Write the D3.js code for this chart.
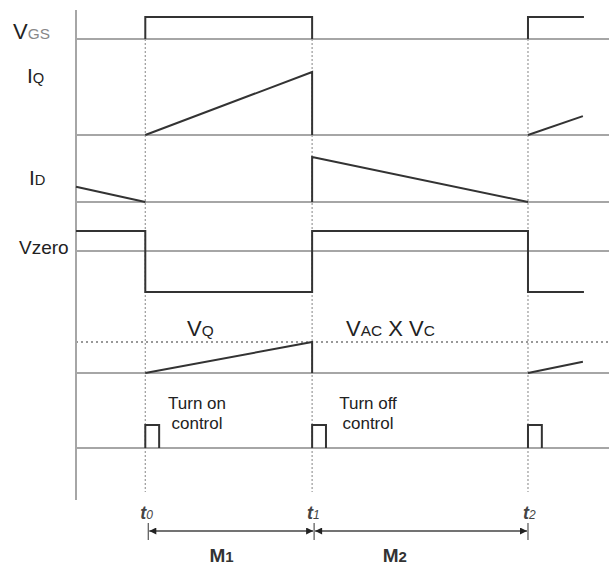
<!DOCTYPE html>
<html>
<head>
<meta charset="utf-8">
<script src="https://cdn.jsdelivr.net/npm/d3@7"></script>
<style>
  body { margin: 0; background: #fff; }
  svg { display: block; font-family: "Liberation Sans", Arial, sans-serif; }
</style>
</head>
<body>
<div id="chart"></div>
<script>
// switching instants (time units, 0..100 across the plot)
const times = [13, 44.3, 84.8];
const timeLabels = ['0', '1', '2'];
const pulseWidth = 2.6;

// waveform vertices [time, level], one list per drawn segment
const vgs = [
  [[13, 0], [13, 1], [44.3, 1], [44.3, 0]],
  [[84.8, 0], [84.8, 1], [95.3, 1]]
];
const iq = [
  [[13, 0], [44.3, 1], [44.3, 0]],
  [[84.8, 0], [95.1, 0.3]]
];
const id = [
  [[0, 0.34], [13, 0]],
  [[44.3, 0], [44.3, 1], [84.8, 0]]
];
const vzero = [
  [[0, 1], [13, 1], [13, -2.05], [44.3, -2.05], [44.3, 1], [84.8, 1], [84.8, -2.05], [95.3, -2.05]]
];
const vq = [
  [[13, 0], [44.3, 1], [44.3, 0]],
  [[84.8, 0], [95.1, 0.36]]
];
const ctrl = times.map(t => [[t, 0], [t, 1], [t + pulseWidth, 1], [t + pulseWidth, 0]]);

const modes = [
  { name: 'M', sub: '1', from: 0, to: 1, at: 27.3 },
  { name: 'M', sub: '2', from: 1, to: 2, at: 59.8 }
];

// layout
const width = 609, height = 567;
const axisX = 76;
const rows = [
  { data: vgs, base: 39, top: 17 },
  { data: iq, base: 135, top: 72 },
  { data: id, base: 202, top: 157 },
  { data: vzero, base: 251, top: 231 },
  { data: vq, base: 373, top: 342 },
  { data: ctrl, base: 448, top: 425 }
];

const x = d3.scaleLinear().domain([0, 100]).range([axisX, width]);

const svg = d3.select('#chart').append('svg')
  .attr('width', width)
  .attr('height', height);

const gray = '#a6a6a6';
const ink = '#333';

// baselines
svg.append('g').selectAll('line')
  .data(rows)
  .join('line')
    .attr('x1', axisX).attr('x2', width)
    .attr('y1', d => d.base).attr('y2', d => d.base)
    .attr('stroke', gray).attr('stroke-width', 2);

// dotted reference level for VQ
svg.append('line')
  .attr('x1', axisX).attr('x2', width)
  .attr('y1', 342).attr('y2', 342)
  .attr('stroke', '#777').attr('stroke-width', 1.5)
  .attr('stroke-dasharray', '2,3');

// dotted time markers
svg.append('g').selectAll('line')
  .data(times)
  .join('line')
    .attr('x1', d => x(d)).attr('x2', d => x(d))
    .attr('y1', 39).attr('y2', 492)
    .attr('stroke', '#999').attr('stroke-width', 1.2)
    .attr('stroke-dasharray', '2,2');

// vertical axis
svg.append('line')
  .attr('x1', axisX).attr('x2', axisX)
  .attr('y1', 10).attr('y2', 500)
  .attr('stroke', gray).attr('stroke-width', 2);

// waveforms
rows.forEach(r => {
  const y = d3.scaleLinear().domain([0, 1]).range([r.base, r.top]);
  const line = d3.line().x(d => x(d[0])).y(d => y(d[1]));
  svg.append('g').selectAll('path')
    .data(r.data)
    .join('path')
      .attr('d', line)
      .attr('fill', 'none')
      .attr('stroke', ink)
      .attr('stroke-width', 2);
});

// signal labels
function label(parts, px, py, size) {
  const t = svg.append('text')
    .attr('x', px).attr('y', py)
    .attr('fill', '#222');
  parts.forEach(p => {
    t.append('tspan')
      .attr('font-size', p.small ? size * 0.7 : size)
      .attr('fill', p.light ? '#888' : '#222')
      .text(p.s);
  });
  return t;
}
label([{ s: 'V' }, { s: 'GS', small: true, light: true }], 13, 39, 22);
label([{ s: 'I' }, { s: 'Q', small: true }], 27, 83, 21);
label([{ s: 'I' }, { s: 'D', small: true }], 29, 185, 21);
label([{ s: 'Vzero' }], 19, 254, 19);
label([{ s: 'V' }, { s: 'Q', small: true }], 187, 336, 22);
label([{ s: 'V' }, { s: 'AC', small: true }, { s: ' X V' }, { s: 'C', small: true }], 346, 336, 22);

// control annotations
[['Turn on', 'control', 197], ['Turn off', 'control', 368]].forEach(([a, b, cx]) => {
  const t = svg.append('text')
    .attr('text-anchor', 'middle')
    .attr('font-size', 17)
    .attr('fill', '#222');
  t.append('tspan').attr('x', cx).attr('y', 409).text(a);
  t.append('tspan').attr('x', cx).attr('y', 429).text(b);
});

// time labels
svg.append('g').selectAll('text')
  .data(times)
  .join('text')
    .attr('x', d => x(d) - 5)
    .attr('y', 519)
    .attr('font-style', 'italic')
    .attr('font-weight', 'bold')
    .attr('font-size', 18)
    .attr('fill', '#444')
    .each(function(d, i) {
      const t = d3.select(this);
      t.append('tspan').text('t');
      t.append('tspan').attr('font-size', 12).attr('font-weight', 'normal').text(timeLabels[i]);
    });

// mode arrows
const defs = svg.append('defs');
defs.append('marker')
  .attr('id', 'arr')
  .attr('viewBox', '0 0 10 10')
  .attr('refX', 10).attr('refY', 5)
  .attr('markerWidth', 9).attr('markerHeight', 7)
  .attr('markerUnits', 'userSpaceOnUse')
  .attr('orient', 'auto-start-reverse')
  .append('path')
    .attr('d', 'M0,0L10,5L0,10z')
    .attr('fill', '#222');

const arrowY = 531;
const tickX = [x(times[0]) + 3, x(times[1]) + 2, x(times[2])];
svg.append('g').selectAll('line')
  .data(tickX)
  .join('line')
    .attr('x1', d => d).attr('x2', d => d)
    .attr('y1', 523).attr('y2', 540)
    .attr('stroke', '#555').attr('stroke-width', 1.2);

svg.append('g').selectAll('line')
  .data(modes)
  .join('line')
    .attr('x1', d => tickX[d.from] + 1)
    .attr('x2', d => tickX[d.to] - 1)
    .attr('y1', arrowY).attr('y2', arrowY)
    .attr('stroke', '#444').attr('stroke-width', 1.5)
    .attr('marker-start', 'url(#arr)')
    .attr('marker-end', 'url(#arr)');

svg.append('g').selectAll('text')
  .data(modes)
  .join('text')
    .attr('x', d => x(d.at))
    .attr('y', 562)
    .attr('text-anchor', 'middle')
    .attr('font-weight', 'bold')
    .attr('font-size', 19)
    .attr('fill', '#333')
    .each(function(d) {
      const t = d3.select(this);
      t.append('tspan').text(d.name);
      t.append('tspan').attr('font-size', 15).text(d.sub);
    });
</script>
</body>
</html>
